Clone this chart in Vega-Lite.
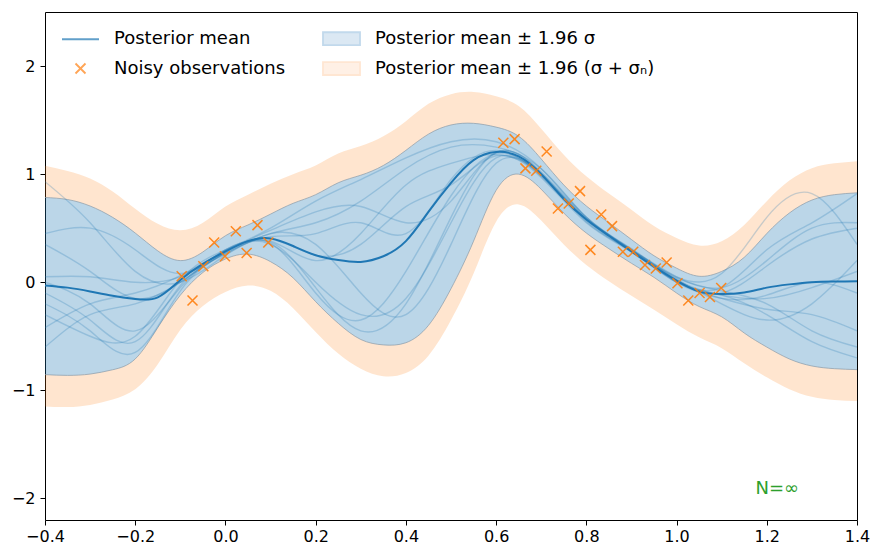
{
  "$schema": "https://vega.github.io/schema/vega-lite/v6.json",
  "width": 812,
  "height": 508,
  "autosize": {"type": "none"},
  "padding": {"left": 45, "top": 12, "right": 15, "bottom": 30},
  "background": "white",
  "config": {
    "view": {"stroke": "#000000", "strokeWidth": 1},
    "font": "DejaVu Sans",
    "axis": {"labelFont": "DejaVu Sans", "labelFontSize": 16, "labelColor": "#000000", "tickColor": "#000000", "tickSize": 5, "domain": false, "grid": false, "labelFlush": false, "labelOverlap": false}
  },
  "datasets": {
    "band": [
      {"x": -0.40, "m": -0.03, "bu": 0.784, "bl": -0.855, "ou": 1.077, "ol": -1.15},
      {"x": -0.35, "m": -0.05, "bu": 0.765, "bl": -0.862, "ou": 1.03, "ol": -1.155},
      {"x": -0.30, "m": -0.085, "bu": 0.705, "bl": -0.85, "ou": 0.96, "ol": -1.135},
      {"x": -0.25, "m": -0.125, "bu": 0.60, "bl": -0.81, "ou": 0.84, "ol": -1.085},
      {"x": -0.20, "m": -0.155, "bu": 0.455, "bl": -0.71, "ou": 0.68, "ol": -0.99},
      {"x": -0.15, "m": -0.14, "bu": 0.29, "bl": -0.42, "ou": 0.54, "ol": -0.76},
      {"x": -0.10, "m": 0.02, "bu": 0.20, "bl": -0.12, "ou": 0.48, "ol": -0.44},
      {"x": -0.05, "m": 0.17, "bu": 0.28, "bl": 0.09, "ou": 0.55, "ol": -0.22},
      {"x": 0.00, "m": 0.285, "bu": 0.43, "bl": 0.215, "ou": 0.70, "ol": -0.09},
      {"x": 0.05, "m": 0.38, "bu": 0.53, "bl": 0.26, "ou": 0.81, "ol": -0.03},
      {"x": 0.10, "m": 0.405, "bu": 0.63, "bl": 0.19, "ou": 0.91, "ol": -0.08},
      {"x": 0.15, "m": 0.335, "bu": 0.73, "bl": 0.04, "ou": 1.0, "ol": -0.24},
      {"x": 0.20, "m": 0.25, "bu": 0.81, "bl": -0.18, "ou": 1.08, "ol": -0.46},
      {"x": 0.25, "m": 0.205, "bu": 0.92, "bl": -0.38, "ou": 1.19, "ol": -0.66},
      {"x": 0.30, "m": 0.188, "bu": 0.99, "bl": -0.53, "ou": 1.26, "ol": -0.80},
      {"x": 0.35, "m": 0.24, "bu": 1.08, "bl": -0.58, "ou": 1.35, "ol": -0.87},
      {"x": 0.40, "m": 0.38, "bu": 1.22, "bl": -0.56, "ou": 1.49, "ol": -0.84},
      {"x": 0.45, "m": 0.65, "bu": 1.37, "bl": -0.40, "ou": 1.65, "ol": -0.68},
      {"x": 0.50, "m": 0.92, "bu": 1.455, "bl": -0.06, "ou": 1.74, "ol": -0.35},
      {"x": 0.55, "m": 1.13, "bu": 1.47, "bl": 0.38, "ou": 1.76, "ol": 0.08},
      {"x": 0.60, "m": 1.205, "bu": 1.435, "bl": 0.85, "ou": 1.72, "ol": 0.56},
      {"x": 0.65, "m": 1.165, "bu": 1.35, "bl": 1.0, "ou": 1.63, "ol": 0.72},
      {"x": 0.70, "m": 1.0, "bu": 1.14, "bl": 0.86, "ou": 1.42, "ol": 0.57},
      {"x": 0.75, "m": 0.77, "bu": 0.90, "bl": 0.64, "ou": 1.18, "ol": 0.35},
      {"x": 0.80, "m": 0.58, "bu": 0.705, "bl": 0.455, "ou": 0.98, "ol": 0.16},
      {"x": 0.85, "m": 0.43, "bu": 0.55, "bl": 0.31, "ou": 0.82, "ol": 0.01},
      {"x": 0.90, "m": 0.285, "bu": 0.395, "bl": 0.175, "ou": 0.67, "ol": -0.125},
      {"x": 0.95, "m": 0.145, "bu": 0.245, "bl": 0.045, "ou": 0.52, "ol": -0.255},
      {"x": 1.00, "m": 0.015, "bu": 0.13, "bl": -0.10, "ou": 0.41, "ol": -0.39},
      {"x": 1.05, "m": -0.085, "bu": 0.055, "bl": -0.225, "ou": 0.34, "ol": -0.51},
      {"x": 1.10, "m": -0.11, "bu": 0.10, "bl": -0.32, "ou": 0.38, "ol": -0.61},
      {"x": 1.15, "m": -0.095, "bu": 0.23, "bl": -0.47, "ou": 0.53, "ol": -0.75},
      {"x": 1.20, "m": -0.05, "bu": 0.45, "bl": -0.60, "ou": 0.75, "ol": -0.88},
      {"x": 1.25, "m": -0.02, "bu": 0.64, "bl": -0.71, "ou": 0.94, "ol": -0.99},
      {"x": 1.30, "m": 0.0, "bu": 0.76, "bl": -0.775, "ou": 1.055, "ol": -1.06},
      {"x": 1.35, "m": 0.006, "bu": 0.81, "bl": -0.80, "ou": 1.10, "ol": -1.09},
      {"x": 1.40, "m": 0.009, "bu": 0.827, "bl": -0.809, "ou": 1.12, "ol": -1.10}
    ],
    "samples": [
      {"s": 1, "x": -0.4, "y": 0.93}, {"s": 1, "x": -0.3, "y": 0.55}, {"s": 1, "x": -0.2, "y": 0.1}, {"s": 1, "x": -0.1, "y": 0.0}, {"s": 1, "x": 0.0, "y": 0.25}, {"s": 1, "x": 0.1, "y": 0.45}, {"s": 1, "x": 0.2, "y": 0.55}, {"s": 1, "x": 0.3, "y": 0.75}, {"s": 1, "x": 0.4, "y": 1.05}, {"s": 1, "x": 0.5, "y": 1.25}, {"s": 1, "x": 0.6, "y": 1.25}, {"s": 1, "x": 0.7, "y": 1.05}, {"s": 1, "x": 0.8, "y": 0.6}, {"s": 1, "x": 0.9, "y": 0.3}, {"s": 1, "x": 1.0, "y": 0.05}, {"s": 1, "x": 1.1, "y": -0.05}, {"s": 1, "x": 1.2, "y": 0.2}, {"s": 1, "x": 1.3, "y": 0.5}, {"s": 1, "x": 1.4, "y": 0.55},
      {"s": 2, "x": -0.4, "y": 0.45}, {"s": 2, "x": -0.3, "y": 0.5}, {"s": 2, "x": -0.2, "y": 0.3}, {"s": 2, "x": -0.1, "y": 0.08}, {"s": 2, "x": 0.0, "y": 0.3}, {"s": 2, "x": 0.1, "y": 0.35}, {"s": 2, "x": 0.2, "y": 0.0}, {"s": 2, "x": 0.3, "y": -0.3}, {"s": 2, "x": 0.4, "y": -0.15}, {"s": 2, "x": 0.5, "y": 0.55}, {"s": 2, "x": 0.6, "y": 1.15}, {"s": 2, "x": 0.7, "y": 0.98}, {"s": 2, "x": 0.8, "y": 0.57}, {"s": 2, "x": 0.9, "y": 0.28}, {"s": 2, "x": 1.0, "y": 0.0}, {"s": 2, "x": 1.1, "y": -0.15}, {"s": 2, "x": 1.2, "y": -0.25}, {"s": 2, "x": 1.3, "y": -0.3}, {"s": 2, "x": 1.4, "y": -0.45},
      {"s": 3, "x": -0.4, "y": 0.35}, {"s": 3, "x": -0.3, "y": 0.1}, {"s": 3, "x": -0.2, "y": -0.15}, {"s": 3, "x": -0.1, "y": 0.0}, {"s": 3, "x": 0.0, "y": 0.28}, {"s": 3, "x": 0.1, "y": 0.48}, {"s": 3, "x": 0.2, "y": 0.65}, {"s": 3, "x": 0.3, "y": 0.7}, {"s": 3, "x": 0.4, "y": 0.55}, {"s": 3, "x": 0.5, "y": 0.75}, {"s": 3, "x": 0.6, "y": 1.2}, {"s": 3, "x": 0.7, "y": 1.02}, {"s": 3, "x": 0.8, "y": 0.6}, {"s": 3, "x": 0.9, "y": 0.3}, {"s": 3, "x": 1.0, "y": 0.05}, {"s": 3, "x": 1.1, "y": 0.08}, {"s": 3, "x": 1.2, "y": 0.6}, {"s": 3, "x": 1.3, "y": 0.82}, {"s": 3, "x": 1.4, "y": 0.35},
      {"s": 4, "x": -0.4, "y": 0.05}, {"s": 4, "x": -0.3, "y": 0.05}, {"s": 4, "x": -0.2, "y": 0.0}, {"s": 4, "x": -0.1, "y": 0.05}, {"s": 4, "x": 0.0, "y": 0.27}, {"s": 4, "x": 0.1, "y": 0.42}, {"s": 4, "x": 0.2, "y": 0.45}, {"s": 4, "x": 0.3, "y": 0.55}, {"s": 4, "x": 0.4, "y": 0.45}, {"s": 4, "x": 0.5, "y": 0.95}, {"s": 4, "x": 0.6, "y": 1.22}, {"s": 4, "x": 0.7, "y": 0.99}, {"s": 4, "x": 0.8, "y": 0.58}, {"s": 4, "x": 0.9, "y": 0.3}, {"s": 4, "x": 1.0, "y": 0.03}, {"s": 4, "x": 1.1, "y": -0.2}, {"s": 4, "x": 1.2, "y": -0.35}, {"s": 4, "x": 1.3, "y": -0.2}, {"s": 4, "x": 1.4, "y": 0.2},
      {"s": 5, "x": -0.4, "y": 0.0}, {"s": 5, "x": -0.3, "y": -0.2}, {"s": 5, "x": -0.2, "y": -0.45}, {"s": 5, "x": -0.1, "y": -0.05}, {"s": 5, "x": 0.0, "y": 0.3}, {"s": 5, "x": 0.1, "y": 0.38}, {"s": 5, "x": 0.2, "y": 0.2}, {"s": 5, "x": 0.3, "y": 0.45}, {"s": 5, "x": 0.4, "y": 0.9}, {"s": 5, "x": 0.5, "y": 1.1}, {"s": 5, "x": 0.6, "y": 1.18}, {"s": 5, "x": 0.7, "y": 1.0}, {"s": 5, "x": 0.8, "y": 0.56}, {"s": 5, "x": 0.9, "y": 0.29}, {"s": 5, "x": 1.0, "y": 0.0}, {"s": 5, "x": 1.1, "y": -0.1}, {"s": 5, "x": 1.2, "y": 0.15}, {"s": 5, "x": 1.3, "y": 0.4}, {"s": 5, "x": 1.4, "y": 0.5},
      {"s": 6, "x": -0.4, "y": -0.1}, {"s": 6, "x": -0.3, "y": -0.35}, {"s": 6, "x": -0.2, "y": -0.55}, {"s": 6, "x": -0.1, "y": -0.03}, {"s": 6, "x": 0.0, "y": 0.26}, {"s": 6, "x": 0.1, "y": 0.45}, {"s": 6, "x": 0.2, "y": 0.35}, {"s": 6, "x": 0.3, "y": -0.1}, {"s": 6, "x": 0.4, "y": -0.3}, {"s": 6, "x": 0.5, "y": 0.35}, {"s": 6, "x": 0.6, "y": 1.1}, {"s": 6, "x": 0.7, "y": 1.0}, {"s": 6, "x": 0.8, "y": 0.59}, {"s": 6, "x": 0.9, "y": 0.31}, {"s": 6, "x": 1.0, "y": 0.02}, {"s": 6, "x": 1.1, "y": -0.15}, {"s": 6, "x": 1.2, "y": -0.12}, {"s": 6, "x": 1.3, "y": 0.0}, {"s": 6, "x": 1.4, "y": -0.1},
      {"s": 7, "x": -0.4, "y": -0.2}, {"s": 7, "x": -0.3, "y": -0.45}, {"s": 7, "x": -0.2, "y": -0.65}, {"s": 7, "x": -0.1, "y": -0.08}, {"s": 7, "x": 0.0, "y": 0.27}, {"s": 7, "x": 0.1, "y": 0.37}, {"s": 7, "x": 0.2, "y": -0.05}, {"s": 7, "x": 0.3, "y": -0.45}, {"s": 7, "x": 0.4, "y": -0.2}, {"s": 7, "x": 0.5, "y": 0.6}, {"s": 7, "x": 0.6, "y": 1.2}, {"s": 7, "x": 0.7, "y": 1.01}, {"s": 7, "x": 0.8, "y": 0.58}, {"s": 7, "x": 0.9, "y": 0.29}, {"s": 7, "x": 1.0, "y": 0.04}, {"s": 7, "x": 1.1, "y": -0.08}, {"s": 7, "x": 1.2, "y": -0.2}, {"s": 7, "x": 1.3, "y": -0.45}, {"s": 7, "x": 1.4, "y": -0.6},
      {"s": 8, "x": -0.4, "y": -0.3}, {"s": 8, "x": -0.3, "y": -0.5}, {"s": 8, "x": -0.2, "y": -0.5}, {"s": 8, "x": -0.1, "y": 0.02}, {"s": 8, "x": 0.0, "y": 0.3}, {"s": 8, "x": 0.1, "y": 0.5}, {"s": 8, "x": 0.2, "y": 0.75}, {"s": 8, "x": 0.3, "y": 0.95}, {"s": 8, "x": 0.4, "y": 1.15}, {"s": 8, "x": 0.5, "y": 1.3}, {"s": 8, "x": 0.6, "y": 1.3}, {"s": 8, "x": 0.7, "y": 1.05}, {"s": 8, "x": 0.8, "y": 0.6}, {"s": 8, "x": 0.9, "y": 0.3}, {"s": 8, "x": 1.0, "y": 0.0}, {"s": 8, "x": 1.1, "y": -0.12}, {"s": 8, "x": 1.2, "y": -0.3}, {"s": 8, "x": 1.3, "y": -0.55}, {"s": 8, "x": 1.4, "y": -0.7},
      {"s": 9, "x": -0.4, "y": -0.42}, {"s": 9, "x": -0.3, "y": -0.2}, {"s": 9, "x": -0.2, "y": -0.1}, {"s": 9, "x": -0.1, "y": 0.06}, {"s": 9, "x": 0.0, "y": 0.29}, {"s": 9, "x": 0.1, "y": 0.4}, {"s": 9, "x": 0.2, "y": 0.25}, {"s": 9, "x": 0.3, "y": 0.35}, {"s": 9, "x": 0.4, "y": 0.7}, {"s": 9, "x": 0.5, "y": 0.9}, {"s": 9, "x": 0.6, "y": 1.17}, {"s": 9, "x": 0.7, "y": 0.97}, {"s": 9, "x": 0.8, "y": 0.55}, {"s": 9, "x": 0.9, "y": 0.28}, {"s": 9, "x": 1.0, "y": 0.01}, {"s": 9, "x": 1.1, "y": -0.05}, {"s": 9, "x": 1.2, "y": 0.3}, {"s": 9, "x": 1.3, "y": 0.55}, {"s": 9, "x": 1.4, "y": 0.82},
      {"s": 10, "x": -0.4, "y": -0.6}, {"s": 10, "x": -0.3, "y": -0.3}, {"s": 10, "x": -0.2, "y": -0.2}, {"s": 10, "x": -0.1, "y": 0.0}, {"s": 10, "x": 0.0, "y": 0.28}, {"s": 10, "x": 0.1, "y": 0.36}, {"s": 10, "x": 0.2, "y": -0.1}, {"s": 10, "x": 0.3, "y": -0.35}, {"s": 10, "x": 0.4, "y": 0.1}, {"s": 10, "x": 0.5, "y": 0.8}, {"s": 10, "x": 0.6, "y": 1.19}, {"s": 10, "x": 0.7, "y": 0.99}, {"s": 10, "x": 0.8, "y": 0.58}, {"s": 10, "x": 0.9, "y": 0.3}, {"s": 10, "x": 1.0, "y": 0.02}, {"s": 10, "x": 1.1, "y": -0.12}, {"s": 10, "x": 1.2, "y": -0.15}, {"s": 10, "x": 1.3, "y": -0.05}, {"s": 10, "x": 1.4, "y": 0.1}
    ],
    "obs": [
      {"x": -0.097, "y": 0.056}, {"x": -0.073, "y": -0.169}, {"x": -0.049, "y": 0.148}, {"x": -0.025, "y": 0.368},
      {"x": -0.001, "y": 0.241}, {"x": 0.023, "y": 0.472}, {"x": 0.047, "y": 0.271}, {"x": 0.071, "y": 0.528},
      {"x": 0.095, "y": 0.368},
      {"x": 0.616, "y": 1.29}, {"x": 0.641, "y": 1.324}, {"x": 0.665, "y": 1.053}, {"x": 0.689, "y": 1.031},
      {"x": 0.712, "y": 1.21}, {"x": 0.737, "y": 0.682}, {"x": 0.761, "y": 0.729}, {"x": 0.786, "y": 0.843},
      {"x": 0.809, "y": 0.299}, {"x": 0.833, "y": 0.626}, {"x": 0.857, "y": 0.519}, {"x": 0.881, "y": 0.281},
      {"x": 0.904, "y": 0.281}, {"x": 0.93, "y": 0.16}, {"x": 0.954, "y": 0.126}, {"x": 0.978, "y": 0.182},
      {"x": 1.002, "y": -0.009}, {"x": 1.026, "y": -0.17}, {"x": 1.051, "y": -0.099}, {"x": 1.074, "y": -0.136},
      {"x": 1.099, "y": -0.053}
    ],
    "legend": [
      {"label": "Posterior mean", "x": -1, "y": 0},
      {"label": "Noisy observations", "x": -1, "y": 0},
      {"label": "Posterior mean ± 1.96 σ", "x": -1, "y": 0},
      {"label": "Posterior mean ± 1.96 (σ + σₙ)", "x": -1, "y": 0}
    ],
    "note": [{"x": 1.175, "y": -1.96, "text": "N=∞"}]
  },
  "encoding": {
    "x": {"field": "x", "type": "quantitative", "scale": {"domain": [-0.4, 1.4], "nice": false, "zero": false},
          "axis": {"title": null, "values": [-0.4, -0.2, 0, 0.2, 0.4, 0.6, 0.8, 1.0, 1.2, 1.4], "format": ".1f", "labelPadding": 3}}
  },
  "layer": [
    {
      "data": {"name": "band"},
      "mark": {"type": "area", "color": "#ff7f0e", "opacity": 0.2, "interpolate": "natural"},
      "encoding": {
        "y": {"field": "bu", "type": "quantitative", "scale": {"domain": [-2.2, 2.5], "nice": false, "zero": false},
              "axis": {"title": null, "values": [-2, -1, 0, 1, 2], "format": "d", "labelPadding": 5}},
        "y2": {"field": "ou"}
      }
    },
    {
      "data": {"name": "band"},
      "mark": {"type": "area", "color": "#ff7f0e", "opacity": 0.2, "interpolate": "natural"},
      "encoding": {"y": {"field": "ol", "type": "quantitative"}, "y2": {"field": "bl"}}
    },
    {
      "data": {"name": "band"},
      "mark": {"type": "area", "color": "#1f77b4", "opacity": 0.3, "interpolate": "natural"},
      "encoding": {"y": {"field": "bl", "type": "quantitative"}, "y2": {"field": "bu"}}
    },
    {
      "data": {"name": "band"},
      "mark": {"type": "line", "color": "#8a9aa6", "opacity": 0.7, "strokeWidth": 1, "interpolate": "natural"},
      "encoding": {"y": {"field": "bu", "type": "quantitative"}}
    },
    {
      "data": {"name": "band"},
      "mark": {"type": "line", "color": "#8a9aa6", "opacity": 0.7, "strokeWidth": 1, "interpolate": "natural"},
      "encoding": {"y": {"field": "bl", "type": "quantitative"}}
    },
    {
      "data": {"name": "samples"},
      "mark": {"type": "line", "color": "#1f77b4", "opacity": 0.25, "strokeWidth": 1.4, "interpolate": "natural", "clip": true},
      "encoding": {"y": {"field": "y", "type": "quantitative"}, "detail": {"field": "s", "type": "nominal"}}
    },
    {
      "data": {"name": "band"},
      "mark": {"type": "line", "color": "#1f77b4", "strokeWidth": 2, "interpolate": "natural"},
      "encoding": {"y": {"field": "m", "type": "quantitative"}}
    },
    {
      "data": {"name": "obs"},
      "mark": {"type": "point", "shape": "M-1,-1L1,1M1,-1L-1,1", "size": 100, "filled": false, "color": "#ff7f0e", "strokeWidth": 1.5, "opacity": 0.9},
      "encoding": {"y": {"field": "y", "type": "quantitative"}}
    },
    {
      "data": {"name": "note"},
      "mark": {"type": "text", "color": "#2ca02c", "fontSize": 18, "font": "DejaVu Sans", "align": "left", "baseline": "alphabetic"},
      "encoding": {"y": {"field": "y", "type": "quantitative"}, "text": {"field": "text"}}
    },
    {
      "data": {"name": "legend"},
      "mark": {"type": "point", "clip": true, "size": 1369, "strokeWidth": 1.8},
      "encoding": {
        "y": {"field": "y", "type": "quantitative"},
        "shape": {"field": "label", "type": "nominal",
          "scale": {"domain": ["Posterior mean", "Noisy observations", "Posterior mean ± 1.96 σ", "Posterior mean ± 1.96 (σ + σₙ)"],
                    "range": ["M-1,0L1,0", "M-0.27,-0.27L0.27,0.27M0.27,-0.27L-0.27,0.27", "M-1,-0.35L1,-0.35L1,0.35L-1,0.35Z", "M-1,-0.35L1,-0.35L1,0.35L-1,0.35Z"]},
          "legend": {"title": null, "orient": "none", "legendX": 16, "legendY": 7, "columns": 2, "columnPadding": 33, "rowPadding": -4, "symbolSize": 1369, "symbolStrokeWidth": 1.8, "labelFontSize": 18, "labelFont": "DejaVu Sans", "labelColor": "#000000", "labelOffset": 14, "labelLimit": 400, "padding": 0}},
        "fill": {"field": "label", "type": "nominal",
          "scale": {"domain": ["Posterior mean", "Noisy observations", "Posterior mean ± 1.96 σ", "Posterior mean ± 1.96 (σ + σₙ)"],
                    "range": ["#1f77b4", "#ff7f0e", "#b6d2e8", "#ffe3cc"]},
          "legend": {"title": null}},
        "stroke": {"field": "label", "type": "nominal",
          "scale": {"domain": ["Posterior mean", "Noisy observations", "Posterior mean ± 1.96 σ", "Posterior mean ± 1.96 (σ + σₙ)"],
                    "range": ["#1f77b4", "#ff7f0e", "#a8c9e4", "#ffdcc0"]},
          "legend": {"title": null}}
      }
    }
  ],
  "resolve": {"scale": {"y": "shared"}}
}
